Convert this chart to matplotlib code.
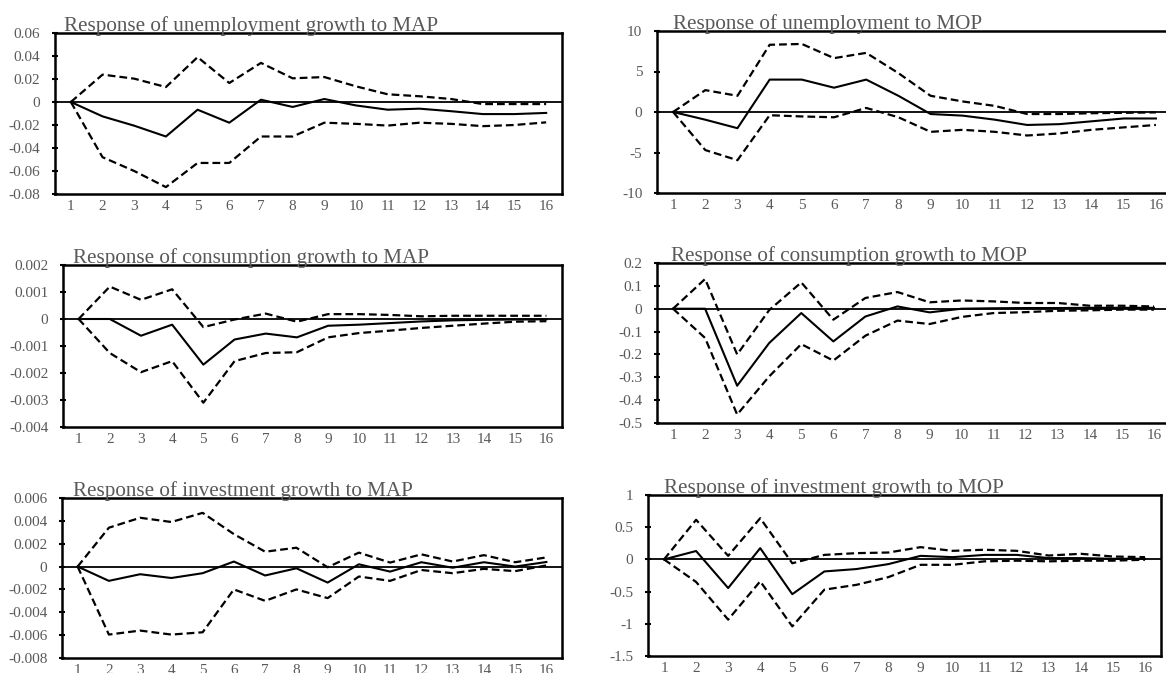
import matplotlib
matplotlib.use("Agg")
import matplotlib.pyplot as plt
import numpy as np

# Períodos (horizonte da resposta)
periodos = list(range(1, 17))

# Response of unemployment growth to MAP
unemp_map = [0, -0.0125, -0.0206, -0.030, -0.0067, -0.018, 0.002, -0.0043,
             0.0026, -0.003, -0.0067, -0.0058, -0.008, -0.0105, -0.0105, -0.0095]
unemp_map_sup = [0, 0.0238, 0.0203, 0.013, 0.039, 0.0165, 0.034, 0.0206,
                 0.0217, 0.0136, 0.0067, 0.005, 0.0026, -0.0018, -0.0018, -0.0018]
unemp_map_inf = [0, -0.048, -0.060, -0.074, -0.053, -0.053, -0.030, -0.030,
                 -0.018, -0.019, -0.0205, -0.018, -0.019, -0.021, -0.020, -0.0177]

# Response of unemployment to MOP
unemp_mop = [0, -0.95, -2.0, 4.0, 4.0, 3.0, 4.0, 2.0,
             -0.25, -0.45, -0.95, -1.6, -1.5, -1.15, -0.8, -0.8]
unemp_mop_sup = [0, 2.7, 2.0, 8.3, 8.4, 6.65, 7.3, 4.8,
                 2.0, 1.3, 0.75, -0.25, -0.25, -0.15, -0.1, -0.05]
unemp_mop_inf = [0, -4.7, -5.95, -0.4, -0.55, -0.65, 0.5, -0.65,
                 -2.45, -2.2, -2.45, -2.9, -2.65, -2.2, -1.9, -1.6]

# Response of consumption growth to MAP
cons_map = [0, 0, -0.00062, -0.00021, -0.00169, -0.00076, -0.00054, -0.00068,
            -0.00025, -0.00021, -0.00015, -0.00009, -0.00005, -0.00003, -0.00002, -0.00001]
cons_map_sup = [0, 0.0012, 0.00071, 0.0011, -0.0003, -0.00002, 0.0002, -0.0001,
                0.00018, 0.00018, 0.00015, 0.0001, 0.00012, 0.00012, 0.00012, 0.00012]
cons_map_inf = [0, -0.00126, -0.00197, -0.00156, -0.0031, -0.00156, -0.00126, -0.00123,
                -0.00068, -0.00052, -0.00043, -0.00033, -0.00025, -0.00017, -0.0001, -0.00008]

# Response of consumption growth to MOP
cons_mop = [0, 0, -0.337, -0.15, -0.019, -0.143, -0.034, 0.01,
            -0.016, 0, 0.002, 0.003, 0.003, 0.004, 0.004, 0.004]
cons_mop_sup = [0, 0.13, -0.20, -0.006, 0.115, -0.048, 0.047, 0.073,
                0.028, 0.036, 0.032, 0.025, 0.025, 0.013, 0.013, 0.01]
cons_mop_inf = [0, -0.128, -0.463, -0.296, -0.155, -0.227, -0.118, -0.052,
                -0.067, -0.036, -0.019, -0.015, -0.009, -0.007, -0.004, -0.004]

# Response of investment growth to MAP
inv_map = [0, -0.00125, -0.00067, -0.001, -0.00058, 0.00044, -0.00078, -0.00015,
           -0.0014, 0.0002, -0.00044, 0.00038, -0.0001, 0.00038, 0, 0.0004]
inv_map_sup = [0, 0.0034, 0.00427, 0.0039, 0.0047, 0.00284, 0.0013, 0.00165,
               -0.00006, 0.00122, 0.00035, 0.00107, 0.00044, 0.001, 0.00038, 0.0008]
inv_map_inf = [0, -0.00595, -0.0056, -0.00595, -0.00575, -0.002, -0.003, -0.002,
               -0.00276, -0.00087, -0.00125, -0.0003, -0.00058, -0.0002, -0.0004, 0.0001]

# Response of investment growth to MOP
inv_mop = [0, 0.13, -0.445, 0.175, -0.54, -0.187, -0.15, -0.073,
           0.055, 0.035, 0.07, 0.07, 0.02, 0.02, 0.01, 0.01]
inv_mop_sup = [0, 0.615, 0.055, 0.64, -0.06, 0.07, 0.097, 0.107,
               0.19, 0.133, 0.15, 0.133, 0.06, 0.087, 0.045, 0.035]
inv_mop_inf = [0, -0.35, -0.935, -0.34, -1.04, -0.47, -0.395, -0.275,
               -0.084, -0.084, -0.03, -0.02, -0.03, -0.02, -0.02, -0.005]

titulos = ['Response of unemployment growth to MAP',
           'Response of unemployment to MOP',
           'Response of consumption growth to MAP',
           'Response of consumption growth to MOP',
           'Response of investment growth to MAP',
           'Response of investment growth to MOP']

W, H = 1166, 673
plt.rcParams['font.family'] = ['Liberation Serif', 'DejaVu Serif']
cinza = '#595959'

fig = plt.figure(figsize=(W / 100, H / 100), dpi=100)

# caixas de cada painel em pixels: esquerda, topo, direita, base, deslocamento do titulo
caixas = [(55, 33, 562, 194, 9), (657, 31, 1172, 193, 16),
          (63, 265, 562, 427, 10), (657, 263, 1170, 423, 14),
          (62, 498, 562, 658, 11), (648, 495, 1161, 656, 16)]

series = [(unemp_map, unemp_map_sup, unemp_map_inf, -0.08, 0.06, 8),
          (unemp_mop, unemp_mop_sup, unemp_mop_inf, -10, 10, 5),
          (cons_map, cons_map_sup, cons_map_inf, -0.004, 0.002, 7),
          (cons_mop, cons_mop_sup, cons_mop_inf, -0.5, 0.2, 8),
          (inv_map, inv_map_sup, inv_map_inf, -0.008, 0.006, 8),
          (inv_mop, inv_mop_sup, inv_mop_inf, -1.5, 1, 6)]


def rotulo(v, p):
    # evita o "-0" no rótulo do zero
    return '%g' % (round(v, 6) + 0.0)


for (l, t, r, b, dx), (media, sup, inf, ymin, ymax, nt), titulo in zip(caixas, series, titulos):
    ax = fig.add_axes([l / W, 1 - b / H, (r - l) / W, (b - t) / H])
    ax.axhline(0, color='black', lw=1.3, zorder=1)
    ax.plot(periodos, media, color='black', lw=1.5, zorder=3)
    ax.plot(periodos, sup, color='black', lw=1.6, dashes=(3.5, 1.8), zorder=2)
    ax.plot(periodos, inf, color='black', lw=1.6, dashes=(3.5, 1.8), zorder=2)
    ax.set_xlim(0.5, 16.5)
    ax.set_ylim(ymin, ymax)
    ax.set_xticks(periodos)
    ax.set_xticklabels([str(p) for p in periodos])
    ax.set_yticks(np.linspace(ymin, ymax, nt))
    ax.yaxis.set_major_formatter(plt.FuncFormatter(rotulo))
    ax.tick_params(axis='x', length=0, pad=4, labelsize=11, labelcolor=cinza)
    ax.tick_params(axis='y', direction='inout', length=5, width=1.5, pad=8,
                   labelsize=11, labelcolor=cinza)
    for s in ax.spines.values():
        s.set_linewidth(1.8)
        s.set_color('black')
    ax.annotate(titulo, xy=(0, 1), xycoords='axes fraction', xytext=(dx, 2),
                textcoords='offset pixels', ha='left', va='baseline',
                fontsize=15.2, color=cinza)

fig.savefig('out.png', dpi=100)
